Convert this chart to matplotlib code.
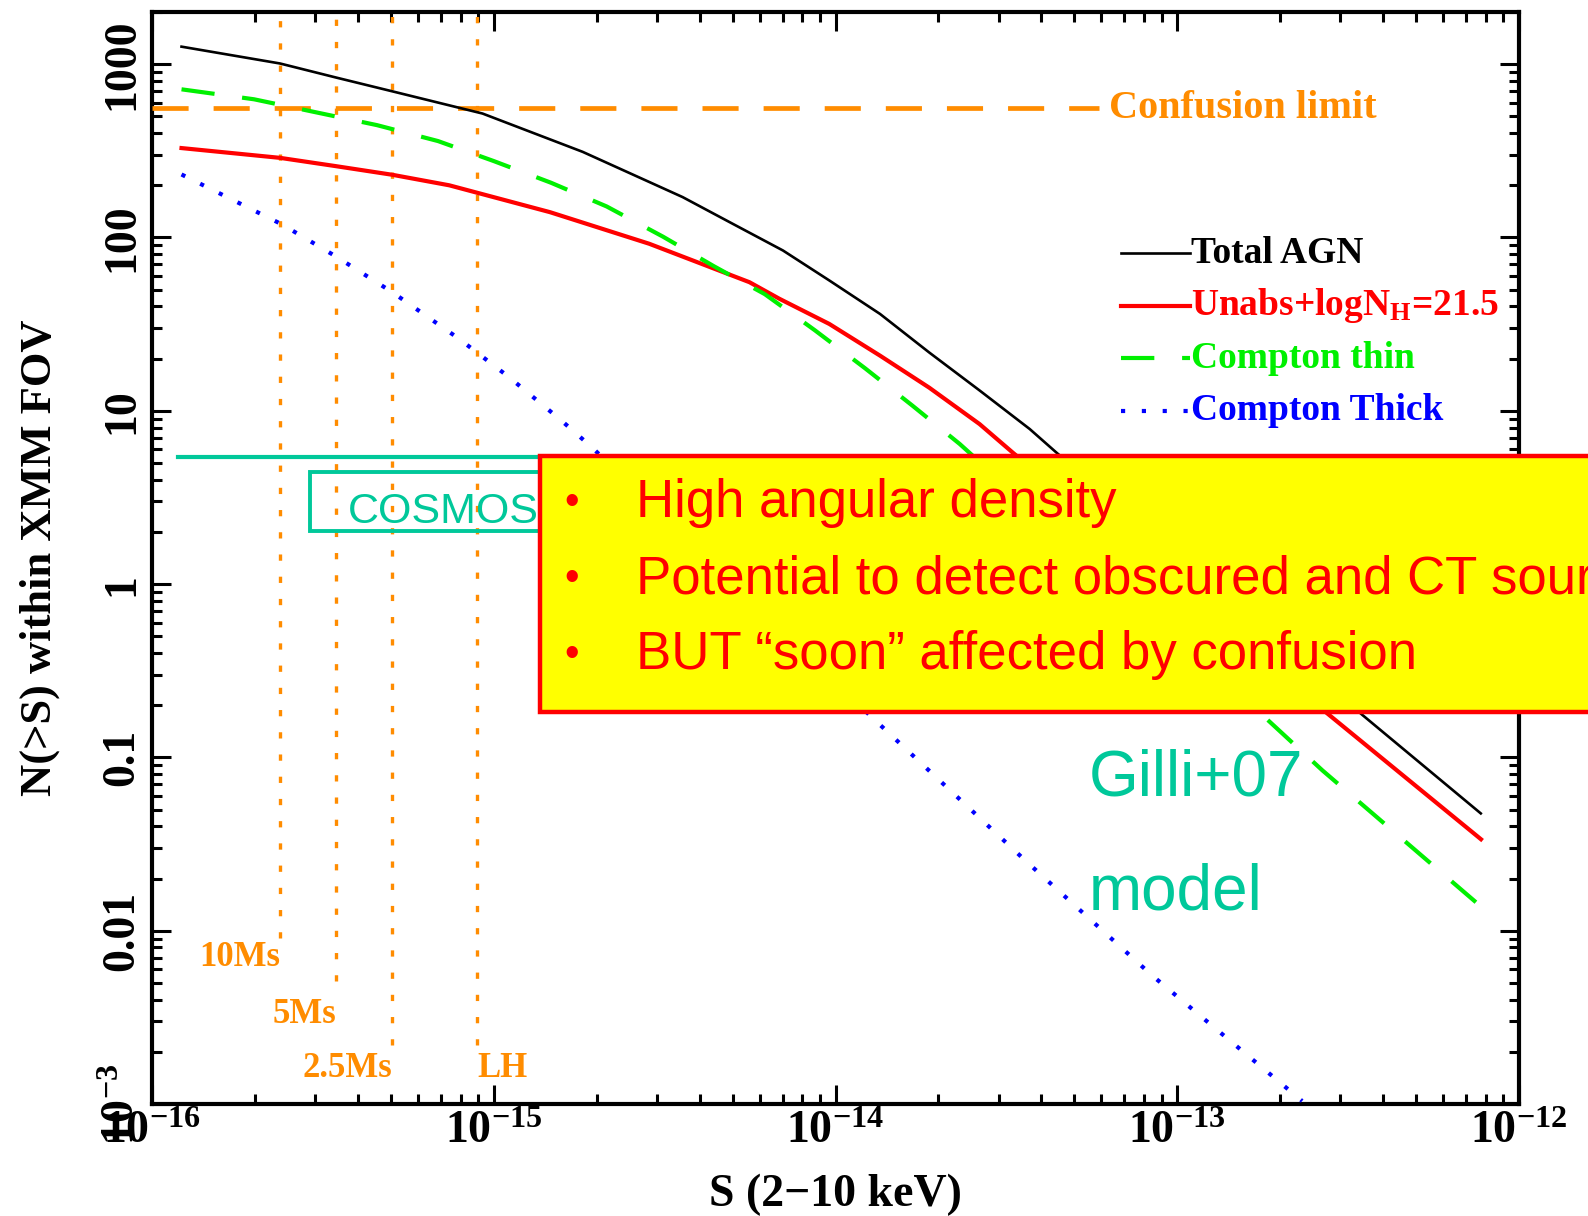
import matplotlib
matplotlib.use("Agg")
import matplotlib.pyplot as plt
from matplotlib.patches import Rectangle

plt.rcParams['font.family'] = ['Liberation Serif', 'DejaVu Serif']
plt.rcParams['font.weight'] = 'bold'
plt.rcParams['axes.labelweight'] = 'bold'
plt.rcParams['mathtext.fontset'] = 'custom'
plt.rcParams['mathtext.rm'] = 'Liberation Serif:bold'
plt.rcParams['mathtext.it'] = 'Liberation Serif:bold'
plt.rcParams['mathtext.bf'] = 'Liberation Serif:bold'
plt.rcParams['lines.scale_dashes'] = False

# ---------------- data ----------------
S_total = [1.22e-16, 2.37e-16, 3.45e-16, 5.05e-16, 9.27e-16, 1.82e-15, 3.57e-15, 5.00e-15,
           7.02e-15, 9.59e-15, 1.35e-14, 1.88e-14, 2.64e-14, 3.70e-14, 4.43e-14, 1.0e-13,
           2.0e-13, 3.49e-13, 7.73e-13]
N_total = [1262, 1009, 838, 697, 519, 312, 171, 120,
           84.1, 56.5, 36.2, 21.7, 13.1, 7.85, 5.74, 1.48,
           0.452, 0.175, 0.0475]

S_unabs = [1.22e-16, 2.37e-16, 3.45e-16, 5.05e-16, 7.41e-16, 1.46e-15, 2.85e-15, 5.60e-15,
           6.85e-15, 9.59e-15, 1.35e-14, 1.88e-14, 2.64e-14, 3.30e-14, 1.0e-13, 2.79e-13,
           7.74e-13]
N_unabs = [328, 288, 258, 230, 200, 140, 92.0, 55.2,
           44.3, 31.7, 20.8, 13.6, 8.38, 5.74, 0.93, 0.175,
           0.0337]

S_thin = [1.22e-16, 1.99e-16, 3.11e-16, 4.55e-16, 6.87e-16, 1.0e-15, 1.47e-15, 2.14e-15,
          3.13e-15, 4.41e-15, 6.21e-15, 8.69e-15, 1.22e-14, 1.68e-14, 2.31e-14, 6.31e-14,
          1.83e-13, 2.66e-13, 7.48e-13]
N_thin = [716, 627, 521, 445, 360, 276, 207, 151,
          101, 68.2, 47.1, 29.2, 17.6, 10.7, 6.43, 1.08,
          0.166, 0.0841, 0.0146]

S_thick = [1.22e-16, 2.40e-16, 3.45e-16, 5.05e-16, 7.92e-16, 1.11e-15, 1.56e-15, 1.94e-15,
           5.01e-15, 1.26e-14, 3.60e-14, 8.41e-14, 2.32e-13]
N_thick = [231, 119, 77.8, 48.3, 26.0, 15.6, 8.95, 6.14,
           1.0, 0.175, 0.0253, 0.00555, 0.00104]

depth_labels = ['10Ms', '5Ms', '2.5Ms', 'LH']
depth_S = [2.37e-16, 3.46e-16, 5.04e-16, 8.95e-16]
depth_Nmin = [0.0091, 0.0051, 0.0022, 0.0022]
depth_label_N = [0.0070, 0.0033, 0.0016, 0.0016]

confusion_N = 557
confusion_Smax = 5.9e-14

cosmos_N = 5.4
cosmos_Smin = 1.19e-16
cosmos_Smax = 1.4e-14

x_ticks = [1e-16, 1e-15, 1e-14, 1e-13, 1e-12]
x_ticklabels = ['$10^{-16}$', '$10^{-15}$', '$10^{-14}$', '$10^{-13}$', '$10^{-12}$']
y_ticks = [1e-3, 1e-2, 1e-1, 1, 10, 100, 1000]
y_ticklabels = ['$10^{-3}$', '0.01', '0.1', '1', '10', '100', '1000']

legend_labels = ['Total AGN', r'Unabs+logN$_{\mathrm{H}}$=21.5', 'Compton thin', 'Compton Thick']
bullets = ['High angular density',
           'Potential to detect obscured and CT sources',
           u'BUT \u201csoon\u201d affected by confusion']

# ---------------- colours ----------------
ORANGE = '#ff8c00'
TEAL = '#00c89a'
GREEN = '#00f000'

W, H = 1588, 1216
fig = plt.figure(figsize=(W / 100, H / 100), dpi=100)
ax = fig.add_axes([152 / W, 1 - 1104 / H, (1519 - 152) / W, (1104 - 12) / H])
ax.set_xscale('log')
ax.set_yscale('log')
ax.set_xlim(1e-16, 1e-12)
ax.set_ylim(1e-3, 2000)

# curves
ax.plot(S_total, N_total, color='black', lw=1.9, zorder=5)
ax.plot(S_unabs, N_unabs, color='red', lw=3.0, zorder=4)
ax.plot(S_thin, N_thin, color=GREEN, lw=3.0, dashes=(24, 20), zorder=4)
ax.plot(S_thick, N_thick, color='blue', lw=3.0, dashes=(3, 12), zorder=4)

# confusion limit
ax.plot([1e-16, confusion_Smax], [confusion_N, confusion_N], color=ORANGE, lw=3.4,
        dashes=(26, 18), zorder=3)
ax.text(6.3e-14, confusion_N, 'Confusion limit', color=ORANGE, fontsize=29,
        ha='left', va='center')

# survey depths
ax.vlines(depth_S, depth_Nmin, 2000, colors=ORANGE, lw=2.4, linestyles=[(0, (4.5, 11.5))], zorder=3)
for lab, s, n in zip(depth_labels, depth_S, depth_label_N):
    ha = 'left' if lab == 'LH' else 'right'
    ax.text(s, n, lab, color=ORANGE, fontsize=25, ha=ha, va='center')

# COSMOS
ax.plot([cosmos_Smin, cosmos_Smax], [cosmos_N, cosmos_N], color=TEAL, lw=3.0, zorder=3)
ax.add_patch(Rectangle((2.9e-16, 2.03), 1.4e-14 - 2.9e-16, 4.42 - 2.03, fill=False,
                       edgecolor=TEAL, lw=2.8, zorder=3))
ax.text(3.75e-16, 2.62, 'COSMOS', color=TEAL, fontsize=31, family='Liberation Sans',
        fontweight='normal', ha='left', va='center', zorder=3)

# legend (manual, PGPLOT style)
leg_styles = [dict(color='black', lw=1.9), dict(color='red', lw=3.0),
              dict(color=GREEN, lw=3.0, dashes=(24, 20)), dict(color='blue', lw=3.0, dashes=(3, 12))]
leg_colors = ['black', 'red', GREEN, 'blue']
leg_y = [0.779, 0.731, 0.683, 0.635]
for lab, st, c, y in zip(legend_labels, leg_styles, leg_colors, leg_y):
    ax.plot([0.709, 0.759], [y, y], transform=ax.transAxes, clip_on=False, **st)
    ax.text(0.760, y, lab, transform=ax.transAxes, color=c, fontsize=27, ha='left', va='center')

# axes style
for sp in ax.spines.values():
    sp.set_linewidth(3.0)
ax.tick_params(which='both', direction='in', top=True, right=True, width=2.2)
ax.tick_params(which='major', length=14)
ax.tick_params(which='minor', length=7)
ax.set_xticks(x_ticks)
ax.set_xticklabels(x_ticklabels, fontsize=33)
ax.set_yticks(y_ticks)
ax.set_yticklabels(y_ticklabels, fontsize=33, rotation=90)
for t in ax.get_yticklabels():
    t.set_va('center')
ax.tick_params(axis='y', which='major', pad=6)
ax.tick_params(axis='x', which='major', pad=5)

ax.set_xlabel('S (2\u221210 keV)', fontsize=33, fontweight='bold')
ax.xaxis.set_label_coords(0.5, -0.0833)
ax.xaxis.label.set_va('center')
ax.set_ylabel('N(>S) within XMM FOV', fontsize=32, fontweight='bold')
ax.yaxis.set_label_coords(-0.082, 0.5)
ax.yaxis.label.set_va('center')

# yellow overlay box
fig.patches.append(Rectangle((540 / W, 1 - 712 / H), 1.2, (712 - 456) / H,
                             transform=fig.transFigure, facecolor='yellow',
                             edgecolor='red', lw=3.2, zorder=10))
for i, txt in enumerate(bullets):
    y = 1 - (503 + 76 * i) / H
    fig.text(572 / W, y, u'\u2022', color='red', fontsize=30, family='Liberation Sans',
             fontweight='normal', ha='center', va='center', zorder=11)
    fig.text(636 / W, y, txt, color='red', fontsize=38, family='Liberation Sans',
             fontweight='normal', ha='left', va='center', zorder=11)

fig.text(1089 / W, 1 - 778 / H, 'Gilli+07', color=TEAL, fontsize=46,
         family='Liberation Sans', fontweight='normal', ha='left', va='center', zorder=11)
fig.text(1089 / W, 1 - 893 / H, 'model', color=TEAL, fontsize=46,
         family='Liberation Sans', fontweight='normal', ha='left', va='center', zorder=11)

fig.savefig('out.png', dpi=100)
